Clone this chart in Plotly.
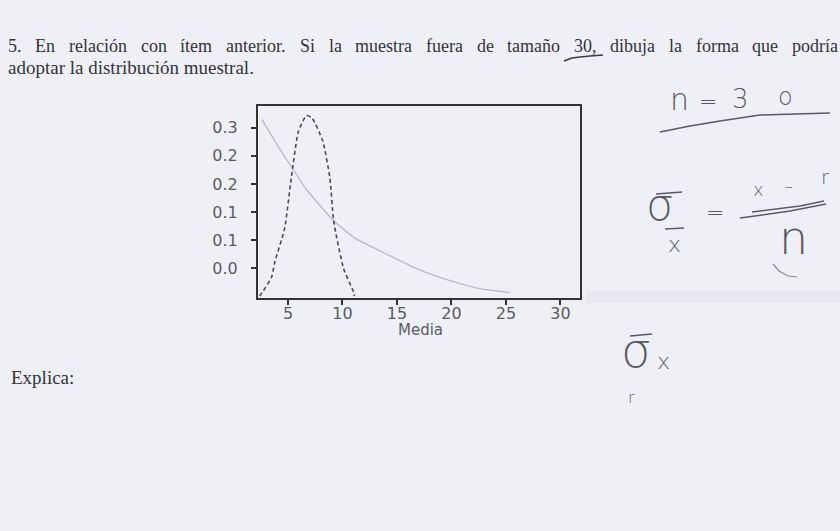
import plotly.graph_objects as go

W, H = 840, 531

# ---- data ----
x_light = [2.6, 4.0, 5.2, 6.7, 8.0, 9.1, 11.0, 13.4, 16.9, 20.1, 22.6, 25.4]
y_light = [0.315, 0.27, 0.234, 0.19, 0.16, 0.136, 0.105, 0.081, 0.048, 0.026, 0.013, 0.006]

x_dash = [2.4, 2.7, 3.5, 3.8, 4.7, 5.3, 5.95, 6.7, 7.2, 8.2, 8.85, 9.2, 10.1, 11.0, 11.1]
y_dash = [0.0, 0.008, 0.034, 0.061, 0.121, 0.21, 0.293, 0.322, 0.318, 0.276, 0.21, 0.133, 0.049, 0.008, 0.0]

x_ticks = [5, 10, 15, 20, 25, 30]
x_ticklabels = ["5", "10", "15", "20", "25", "30"]
y_ticks = [0.05, 0.10, 0.15, 0.20, 0.25, 0.30]
y_ticklabels = ["0.0", "0.1", "0.1", "0.2", "0.2", "0.3"]

x_title = "Media"
question_line1 = "5. En relación con ítem anterior. Si la muestra fuera de tamaño 30, dibuja la forma que podría"
question_line2 = "adoptar la distribución muestral."
explain_text = "Explica:"

BG = "#eff0f6"


def px(x):
    return x / W


def py(y):
    return 1 - y / H


# approximate Times/Liberation Serif advance widths (em) to justify line 1
TW = {c: 0.5 for c in "bdghknopquvxyzñó0123456789"}
TW.update({c: 0.444 for c in "acez"})
TW.update({"f": 0.333, "i": 0.278, "í": 0.278, "j": 0.278, "l": 0.278, "m": 0.778, "r": 0.333,
           "s": 0.389, "t": 0.278, "w": 0.722, ".": 0.25, ",": 0.25, ":": 0.278,
           "E": 0.611, "S": 0.556})


def text_width(word, size):
    return sum(TW.get(c, 0.5) for c in word) * size


fig = go.Figure()
fig.add_trace(go.Scatter(x=x_light, y=y_light, mode="lines",
                         line=dict(color="#b9b9c4", width=1.3, shape="spline", smoothing=0.6),
                         showlegend=False, hoverinfo="skip"))
fig.add_trace(go.Scatter(x=x_dash, y=y_dash, mode="lines",
                         line=dict(color="#4a4a52", width=1.6, dash="4px,3px", shape="spline", smoothing=0.5),
                         showlegend=False, hoverinfo="skip"))

tickfont = dict(family="DejaVu Sans", size=16, color="#5a5a62")

fig.update_layout(
    width=W, height=H, autosize=False,
    margin=dict(l=0, r=0, t=0, b=0),
    paper_bgcolor=BG, plot_bgcolor=BG,
    xaxis=dict(domain=[px(258), px(580)], range=[2.25, 31.8],
               tickvals=x_ticks, ticktext=x_ticklabels, ticks="outside", ticklen=5,
               tickwidth=1.5, tickcolor="#333", showgrid=False, zeroline=False,
               showline=True, linecolor="#333", linewidth=2, mirror=True,
               tickfont=tickfont, ticklabelstandoff=-5),
    yaxis=dict(domain=[py(298), py(106)], range=[-0.0036, 0.339],
               tickvals=y_ticks, ticktext=y_ticklabels, ticks="outside", ticklen=5,
               tickwidth=2, tickcolor="#333", showgrid=False, zeroline=False,
               showline=True, linecolor="#333", linewidth=2, mirror=True,
               tickfont=tickfont, ticklabelstandoff=10),
)

ann = []
ann.append(dict(text=x_title, x=px(420), y=py(330), xref="paper", yref="paper",
                showarrow=False, xanchor="center", yanchor="middle",
                font=dict(family="DejaVu Sans", size=15, color="#5a5a62")))

SZ = 18
serif = dict(family="Liberation Serif", size=SZ, color="#33333a")
# justified first line: words spread from x=6 to x=836
words = question_line1.split(" ")
widths = [text_width(w, SZ) for w in words]
gap = (836 - 6 - sum(widths)) / (len(words) - 1)
xpos = 6
for w, wd in zip(words, widths):
    ann.append(dict(text=w, x=px(xpos), y=py(46), xref="paper", yref="paper",
                    showarrow=False, xanchor="left", yanchor="middle", font=serif))
    xpos += wd + gap
ann.append(dict(text=question_line2, x=px(6), y=py(67.5), xref="paper", yref="paper",
                showarrow=False, xanchor="left", yanchor="middle",
                font=dict(family="Liberation Serif", size=19, color="#33333a")))
ann.append(dict(text=explain_text, x=px(9), y=py(377), xref="paper", yref="paper",
                showarrow=False, xanchor="left", yanchor="middle",
                font=dict(family="Liberation Serif", size=19, color="#33333a")))

# handwritten notes
HC = "#5a5a66"


def hw(t, x, y, size):
    ann.append(dict(text=t, x=px(x), y=py(y), xref="paper", yref="paper",
                    showarrow=False, xanchor="center", yanchor="middle",
                    font=dict(family="DejaVu Sans", size=size, color=HC, weight=200)))


hw("n", 679, 100, 30)
hw("=", 708, 101, 22)
hw("3", 740, 99, 26)
hw("o", 785, 97, 24)
hw("σ", 660, 204, 44)
hw("x", 674, 244, 22)
hw("=", 715, 213, 22)
hw("x", 758, 190, 18)
hw("–", 789, 186, 16)
hw("r", 825, 177, 20)
hw("n", 793, 238, 46)
hw("σ", 636, 350, 48)
hw("x", 663, 361, 22)
hw("r", 631, 397, 16)
fig.update_layout(annotations=ann)


def path(points):
    return "M " + " L ".join(f"{px(a):.5f},{py(b):.5f}" for a, b in points)


line_style = dict(color=HC, width=1.5)
shapes = [
    # underline of n = 30
    dict(type="path", xref="paper", yref="paper", line=line_style,
         path=path([(660, 132), (690, 126), (720, 121), (760, 115), (830, 113)])),
    # pen mark under "30" in the question
    dict(type="path", xref="paper", yref="paper", line=dict(color="#3a3a44", width=1.6),
         path=path([(564, 61), (572, 58), (580, 57), (590, 56), (603, 55)])),
    # top bar of sigma and bar over x
    dict(type="path", xref="paper", yref="paper", line=line_style,
         path=path([(656, 194), (682, 192)])),
    dict(type="path", xref="paper", yref="paper", line=line_style,
         path=path([(665, 229), (684, 228)])),
    dict(type="path", xref="paper", yref="paper", line=line_style,
         path=path([(630, 336), (652, 334)])),
    # fraction bar (double)
    dict(type="path", xref="paper", yref="paper", line=line_style,
         path=path([(740, 218), (790, 211), (826, 204)])),
    dict(type="path", xref="paper", yref="paper", line=line_style,
         path=path([(752, 212), (800, 206), (824, 201)])),
    # arc under n
    dict(type="path", xref="paper", yref="paper", line=dict(color="#8a8a92", width=1.2),
         path=path([(773, 264), (779, 271), (788, 276), (797, 277)])),
    # faint bleed-through band from reverse side of the page
    dict(type="rect", xref="paper", yref="paper", x0=px(586), x1=px(840), y0=py(303), y1=py(291),
         line=dict(width=0), fillcolor="rgba(150,150,175,0.08)"),
]
fig.update_layout(shapes=shapes)

fig.write_html("out.html", config={"displayModeBar": False},
               post_script="document.body.style.margin='0';document.body.style.overflow='hidden';")
